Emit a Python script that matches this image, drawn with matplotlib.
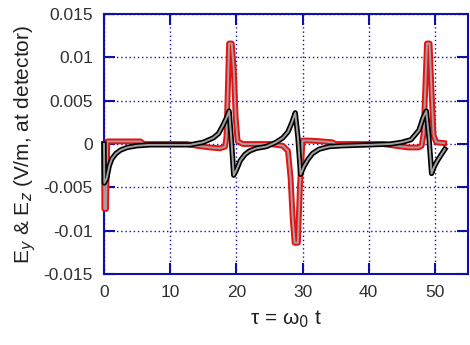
import matplotlib
matplotlib.use("Agg")
import matplotlib.pyplot as plt
from matplotlib.ticker import FuncFormatter

plt.rcParams['font.family'] = ['Liberation Sans', 'DejaVu Sans']

# E field component drawn in red
t_red = [0, 0.05, 0.3, 0.5, 1, 3, 5.5, 6, 12.5, 14, 16, 17.5, 18.3, 18.5, 18.7, 18.9,
         19.3, 19.6, 19.9, 20.2, 21, 25, 27, 27.8, 28.2, 28.5, 28.8, 29.3, 29.6, 30.0,
         31, 33, 34.5, 35, 42, 44, 46, 47.5, 48, 48.3, 48.5, 48.8, 49.2, 49.5, 49.8,
         50.2, 51.4]
e_red = [0, -0.0075, -0.0075, 0.0003, 0.0003, 0.0003, 0.0003, 0, 0, -0.0002, -0.0004,
         -0.0005, -0.0003, 0.0008, 0.006, 0.0116, 0.0116, 0.0088, 0.003, 0.0003, 0, 0,
         -0.0002, -0.0008, -0.004, -0.0085, -0.0114, -0.0114, -0.005, 0.0004, 0.0004,
         0.0003, 0.0002, 0, 0, -0.0002, -0.0004, -0.0004, -0.0002, 0.0012, 0.0055,
         0.0116, 0.0116, 0.006, 0.0010, 0.0002, 0.0001]

# E field component drawn in black
t_blk = [0, 0.05, 0.4, 0.8, 1.2, 1.8, 2.5, 3.5, 5, 7, 10, 13, 15, 16.5, 17.3, 18, 18.5,
         18.9, 19.2, 19.6, 20, 20.6, 21.3, 22, 23, 24.5, 26, 27, 27.8, 28.4, 28.9, 29.3,
         29.7, 30.2, 30.8, 31.5, 32.5, 34, 36, 40, 43.3, 45, 46.4, 47.6, 48.2, 48.7,
         49.1, 49.5, 49.9, 50.4, 50.9, 51.5]
e_blk = [0, -0.0045, -0.0040, -0.0025, -0.0017, -0.0011, -0.0007, -0.0004, -0.0002,
         -0.0001, -0.0001, -0.0001, 0.0002, 0.0007, 0.0012, 0.0022, 0.0030, 0.0038,
         0.0010, -0.0036, -0.0030, -0.0019, -0.0012, -0.0008, -0.0005, -0.0003, 0.0002,
         0.0007, 0.0014, 0.0025, 0.0036, 0.0008, -0.0035, -0.0026, -0.0018, -0.0011,
         -0.0006, -0.0003, -0.0002, -0.0001, 0, 0.0002, 0.0005, 0.0016, 0.0030, 0.0038,
         0.0008, -0.0034, -0.0026, -0.0019, -0.0013, -0.0006]

x_ticks = [0, 10, 20, 30, 40, 50]
y_ticks = [-0.015, -0.01, -0.005, 0, 0.005, 0.01, 0.015]

blue = '#1010a8'

fig = plt.figure(figsize=(4.7, 3.45), dpi=100)
ax = fig.add_axes([0.2213, 0.2058, 0.7744, 0.7536])

ax.plot(t_red, e_red, color='#e81010', lw=4.2, clip_on=False, zorder=3)
ax.plot(t_red, e_red, color='#a8a0a0', lw=1.4, clip_on=False, zorder=4)
ax.plot(t_blk, e_blk, color='black', lw=3.8, clip_on=False, zorder=5)
ax.plot(t_blk, e_blk, color='#a0a0a0', lw=1.4, clip_on=False, zorder=6)

ax.set_xlim(0, 55)
ax.set_ylim(-0.015, 0.015)
ax.set_xticks(x_ticks)
ax.set_yticks(y_ticks)
ax.yaxis.set_major_formatter(FuncFormatter(lambda v, p: '%g' % round(v, 4)))

ax.grid(True, color=blue, linestyle=(0, (1, 2)), linewidth=1.0)
for s in ax.spines.values():
    s.set_color(blue)
    s.set_linewidth(1.5)
ax.tick_params(direction='in', length=8, width=1.5, color=blue, top=True, right=True,
               labelsize=12.5, labelcolor='#303030', pad=8)

ax.set_xlabel('τ = ω$_0$ t', fontsize=15, color='#202020', labelpad=6)
ax.set_ylabel('E$_y$ & E$_z$ (V/m, at detector)', fontsize=15, color='#202020', labelpad=4)

fig.savefig('out.png', dpi=100)
